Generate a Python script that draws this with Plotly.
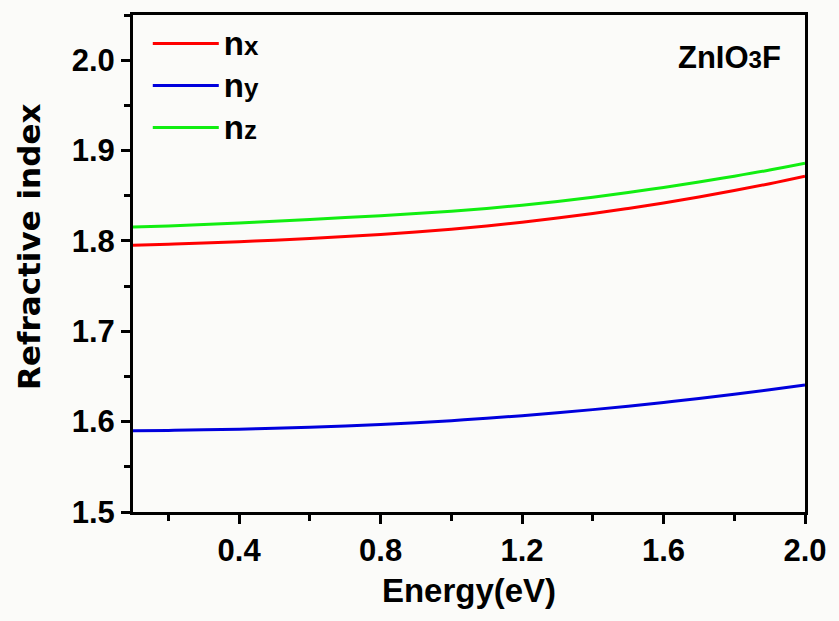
import plotly.graph_objects as go

# Photon energy grid (eV)
energy = [0.1, 0.2, 0.3, 0.4, 0.5, 0.6, 0.7, 0.8, 0.9, 1.0,
          1.1, 1.2, 1.3, 1.4, 1.5, 1.6, 1.7, 1.8, 1.9, 2.0]

# Refractive index along the three principal axes
n_x = [1.7951, 1.7963, 1.7976, 1.7991, 1.8008, 1.8027, 1.8048, 1.8072, 1.8099, 1.8130,
       1.8165, 1.8207, 1.8253, 1.8304, 1.8359, 1.8420, 1.8486, 1.8557, 1.8633, 1.8716]
n_y = [1.5898, 1.5903, 1.5909, 1.5917, 1.5926, 1.5937, 1.5951, 1.5968, 1.5988, 1.6011,
       1.6037, 1.6066, 1.6098, 1.6133, 1.6171, 1.6212, 1.6256, 1.6303, 1.6353, 1.6406]
n_z = [1.8153, 1.8166, 1.8181, 1.8198, 1.8217, 1.8238, 1.8258, 1.8279, 1.8302, 1.8328,
       1.8358, 1.8395, 1.8437, 1.8484, 1.8536, 1.8592, 1.8652, 1.8716, 1.8784, 1.8860]

x_ticks = [0.4, 0.8, 1.2, 1.6, 2.0]
y_ticks = [1.5, 1.6, 1.7, 1.8, 1.9, 2.0]

FONT = "Liberation Sans, Arial, sans-serif"
WIDE = "DejaVu Sans, sans-serif"

def leg(main, sub):
    return (f"<b><span style='font-size:33px'>{main}</span>"
            f"<span style='font-size:26px'>{sub}</span></b>")

series = [
    (leg("n", "x"), n_x, "#ff0000"),
    (leg("n", "y"), n_y, "#0000dd"),
    (leg("n", "z"), n_z, "#11ee11"),
]

fig = go.Figure()
for name, vals, color in series:
    fig.add_trace(go.Scatter(
        x=energy, y=vals, mode="lines", name=name,
        line=dict(color=color, width=3, shape="spline"),
    ))

axis_common = dict(
    showline=True, linecolor="black", linewidth=3, mirror=True,
    ticks="outside", tickcolor="black", tickwidth=3, ticklen=9,
    showgrid=False, zeroline=False,
    tickfont=dict(family=FONT, size=31, color="black", weight="bold"),
)

fig.update_xaxes(
    range=[0.1, 2.0], tickvals=x_ticks, ticktext=[f"{v:.1f}" for v in x_ticks],
    minor=dict(dtick=0.2, tick0=0.0, ticks="outside", ticklen=6,
               tickwidth=3, tickcolor="black"),
    title=dict(text="<b>Energy(eV)</b>", standoff=12,
               font=dict(family=FONT, size=33, color="black")),
    **axis_common,
)
fig.update_yaxes(
    range=[1.5, 2.05], tickvals=y_ticks, ticktext=[f"{v:.1f}" for v in y_ticks],
    minor=dict(dtick=0.05, tick0=1.5, ticks="outside", ticklen=6,
               tickwidth=3, tickcolor="black"),
    **axis_common,
)

# y-axis label placed beside the tick labels
fig.add_annotation(
    xref="paper", yref="paper", x=-0.155, y=0.533, xanchor="center", yanchor="middle",
    text="<b>Refractive index</b>", textangle=-90, showarrow=False,
    font=dict(family=WIDE, size=31, color="black"),
)

fig.add_annotation(
    xref="paper", yref="paper", x=0.968, y=0.914, xanchor="right", yanchor="middle",
    text="<b>ZnIO<span style='font-size:24px'>3</span>F</b>", showarrow=False,
    font=dict(family=FONT, size=31, color="black"),
)

fig.update_layout(
    width=839, height=621,
    margin=dict(l=133, r=27, t=13, b=109),
    paper_bgcolor="#fbfbf9", plot_bgcolor="#fbfbf9",
    showlegend=True,
    legend=dict(
        x=0.022, y=0.995, xanchor="left", yanchor="top",
        bgcolor="rgba(0,0,0,0)", borderwidth=0,
        font=dict(family=FONT, size=30, color="black"),
        itemwidth=66, tracegroupgap=0,
    ),
)

fig.write_html("out.html")
